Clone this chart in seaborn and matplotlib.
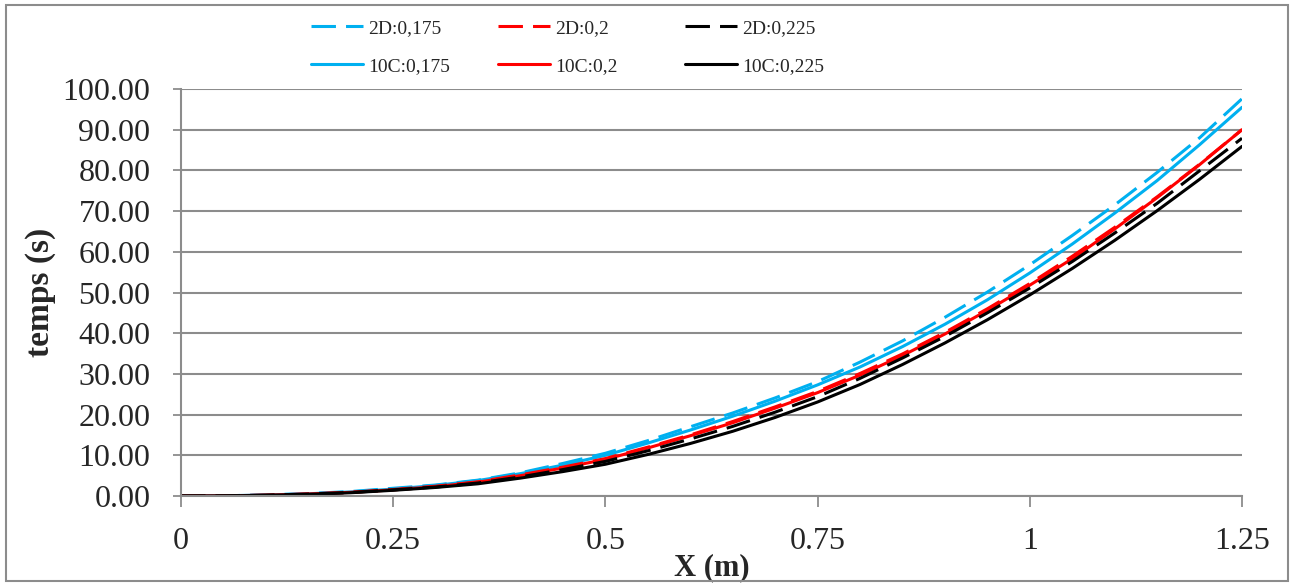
import pandas as pd
import seaborn as sns
import matplotlib.pyplot as plt
from matplotlib.patches import Rectangle

x = [0, 0.05, 0.1, 0.15, 0.2, 0.25, 0.3, 0.35, 0.4, 0.45, 0.5, 0.55, 0.6,
     0.65, 0.7, 0.75, 0.8, 0.85, 0.9, 0.95, 1.0, 1.05, 1.1, 1.15, 1.2, 1.25]

d2_0175 = [0, 0.05, 0.25, 0.6, 1.1, 1.9, 2.7, 3.9, 5.7, 8.0, 10.5, 13.6, 17.0,
           20.4, 24.1, 28.1, 32.9, 38.1, 43.9, 50.1, 56.8, 64.0, 71.5, 79.5, 88.0, 97.6]
c10_0175 = [0, 0.05, 0.25, 0.55, 1.0, 1.7, 2.6, 3.8, 5.5, 7.6, 10.0, 13.0, 16.2,
            19.6, 23.3, 27.3, 31.7, 36.7, 42.2, 48.2, 54.8, 61.9, 69.5, 77.5, 86.3, 95.5]
d2_02 = [0, 0.04, 0.2, 0.5, 0.9, 1.6, 2.4, 3.5, 5.2, 7.1, 9.2, 12.0, 15.0,
         18.3, 21.9, 25.7, 30.1, 34.9, 40.2, 46.0, 52.2, 58.9, 66.0, 73.5, 81.5, 90.0]
c10_02 = [0, 0.04, 0.2, 0.5, 0.9, 1.5, 2.3, 3.4, 5.0, 6.9, 9.0, 11.8, 14.8,
          18.0, 21.6, 25.4, 29.7, 34.5, 39.8, 45.6, 51.8, 58.3, 65.6, 73.3, 81.4, 90.0]
d2_0225 = [0, 0.03, 0.18, 0.45, 0.85, 1.5, 2.2, 3.2, 4.7, 6.5, 8.5, 11.1, 14.0,
           17.1, 20.6, 24.4, 28.9, 33.9, 39.2, 45.0, 51.1, 57.6, 64.6, 71.9, 79.9, 87.9]
c10_0225 = [0, 0.03, 0.17, 0.4, 0.8, 1.4, 2.1, 3.0, 4.4, 6.0, 7.8, 10.2, 12.9,
            15.9, 19.3, 23.1, 27.4, 32.3, 37.6, 43.3, 49.4, 55.9, 62.8, 70.1, 77.8, 85.9]

series = [("2D:0,175", d2_0175, "#00B0F0", "dash"),
          ("10C:0,175", c10_0175, "#00B0F0", "solid"),
          ("2D:0,2", d2_02, "#FF0000", "dash"),
          ("10C:0,2", c10_02, "#FF0000", "solid"),
          ("2D:0,225", d2_0225, "#000000", "dash"),
          ("10C:0,225", c10_0225, "#000000", "solid")]

sns.set_style("white")
plt.rcParams['font.family'] = ['Liberation Serif', 'DejaVu Serif']

fig = plt.figure(figsize=(12.95, 5.86), dpi=100)
ax = fig.add_axes([181/1295, 1 - 496/586, (1242-181)/1295, (496-89)/586])

gray = "#8c8c8c"
for name, vals, col, st in series:
    ls = (0, (8, 3.3)) if st == "dash" else "-"
    sns.lineplot(x=x, y=vals, ax=ax, color=col, linestyle=ls, linewidth=2.2, label=name)

ax.set_xlim(0, 1.25)
ax.set_ylim(0, 100)
ax.set_xticks([0, 0.25, 0.5, 0.75, 1.0, 1.25])
ax.set_xticklabels(["0", "0.25", "0.5", "0.75", "1", "1.25"])
ax.set_yticks(range(0, 101, 10))
ax.set_yticklabels([f"{v:.2f}" for v in range(0, 101, 10)])
ax.tick_params(axis='both', labelsize=23, color=gray, width=1.3)
ax.tick_params(axis='y', length=6, pad=16, left=True)
ax.tick_params(axis='x', length=8, pad=14, bottom=True)
ax.yaxis.grid(True, color=gray, linewidth=1.5)
ax.xaxis.grid(False)
for s in ["top", "right"]:
    ax.spines[s].set_visible(False)
for s in ["left", "bottom"]:
    ax.spines[s].set_color(gray)
    ax.spines[s].set_linewidth(1.5)

ax.set_xlabel("X (m)", fontsize=22, fontweight="bold", labelpad=-2)
ax.set_ylabel("temps (s)", fontsize=24, fontweight="bold", labelpad=5)

# legend: one column per colour, evenly spaced like the original
ax.get_legend().remove()
h, l = ax.get_legend_handles_labels()
for i in range(3):
    leg = fig.legend(h[2*i:2*i+2], l[2*i:2*i+2], loc="upper left",
                     bbox_to_anchor=((311 + 187*i)/1295, 1 - 19/586),
                     frameon=False, fontsize=14, handlelength=2.65, handletextpad=0.28,
                     labelspacing=1.08, borderaxespad=0, borderpad=0)

fig.add_artist(Rectangle((6/1295, 1 - 581/586), (1288-6)/1295, (581-5)/586,
                         transform=fig.transFigure, fill=False, edgecolor=gray, linewidth=1.5))

fig.savefig("out.png", dpi=100)
